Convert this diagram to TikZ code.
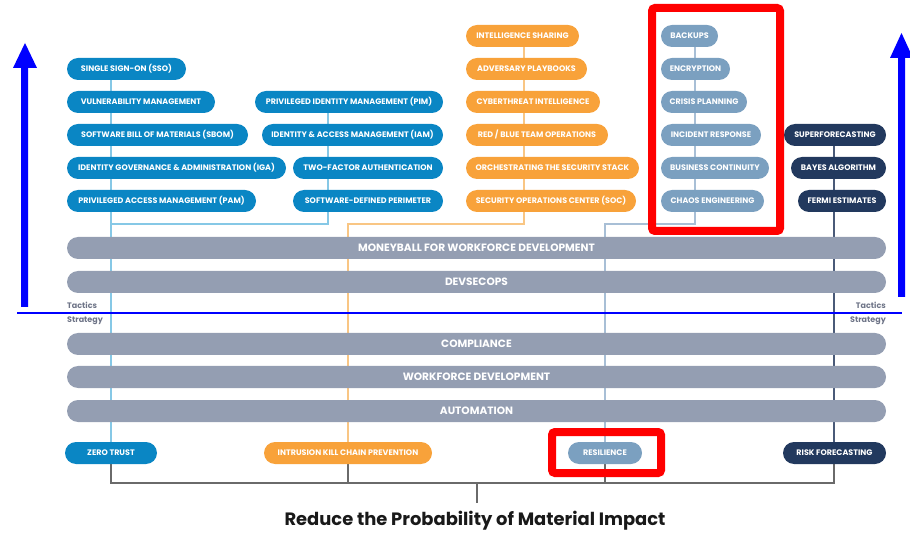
\documentclass[tikz,border=0pt]{standalone}
\usepackage{fontspec}
\setmainfont{Poppins}
\pgfdeclarelayer{bg}
\pgfsetlayers{bg,main}
\definecolor{cblue}{HTML}{0A86C4}
\definecolor{corange}{HTML}{F8A23A}
\definecolor{csteel}{HTML}{7BA0C0}
\definecolor{cnavy}{HTML}{22395E}
\definecolor{cbar}{HTML}{949EB2}
\definecolor{lblue}{HTML}{86C8E6}
\definecolor{lorange}{HTML}{F9C684}
\definecolor{lsteel}{HTML}{A8BFD6}
\definecolor{lnavy}{HTML}{4A5A78}
\definecolor{cgray}{HTML}{6A6A6A}
\definecolor{ctxt}{HTML}{6E7487}
\definecolor{pureblue}{RGB}{0,0,255}
\definecolor{purered}{RGB}{255,0,0}
\tikzset{
  pill/.style={rectangle, rounded corners=11pt, minimum height=22pt, inner sep=0pt, text=white, text height=5.6pt, text depth=0pt, font=\bfseries\fontsize{8}{9}\selectfont},
  bar/.style={pill, fill=cbar, minimum width=819pt, text height=7.4pt, font=\bfseries\fontsize{10.6}{12}\selectfont},
  spine/.style={line width=1.2pt},
  side/.style={text=ctxt, font=\bfseries\fontsize{8}{9}\selectfont, inner sep=0pt},
  hilite/.style={draw=purered, line width=8pt, rounded corners=3pt},
}
\newcommand\pl[6]{\node[pill,fill=#5,minimum width={#3pt-#2pt}] (#1) at ({(#2+#3)/2},#4) {#6};}
\begin{document}
\begin{tikzpicture}[x=1pt,y=-1pt]
\useasboundingbox (0,0) rectangle (910,534);
% column 1
\pl{sso}{67}{186}{69}{cblue}{SINGLE SIGN-ON (SSO)}
\pl{vm}{67}{215}{102}{cblue}{VULNERABILITY MANAGEMENT}
\pl{sbom}{67}{248}{135}{cblue}{SOFTWARE BILL OF MATERIALS (SBOM)}
\pl{iga}{67}{286}{168}{cblue}{IDENTITY GOVERNANCE \& ADMINISTRATION (IGA)}
\pl{pam}{67}{256}{201}{cblue}{PRIVILEGED ACCESS MANAGEMENT (PAM)}
% column 2
\pl{pim}{255}{443}{102}{cblue}{PRIVILEGED IDENTITY MANAGEMENT (PIM)}
\pl{iam}{262}{443}{135}{cblue}{IDENTITY \& ACCESS MANAGEMENT (IAM)}
\pl{tfa}{293}{443}{168}{cblue}{TWO-FACTOR AUTHENTICATION}
\pl{sdp}{293}{443}{201}{cblue}{SOFTWARE-DEFINED PERIMETER}
% column 3
\pl{is}{466}{579}{36}{corange}{INTELLIGENCE SHARING}
\pl{ap}{466}{587}{69}{corange}{ADVERSARY PLAYBOOKS}
\pl{cti}{466}{600}{102}{corange}{CYBERTHREAT INTELLIGENCE}
\pl{rb}{466}{608}{135}{corange}{RED / BLUE TEAM OPERATIONS}
\pl{orch}{466}{639}{168}{corange}{ORCHESTRATING THE SECURITY STACK}
\pl{soc}{466}{636}{201}{corange}{SECURITY OPERATIONS CENTER (SOC)}
% column 4
\pl{bk}{661}{718}{36}{csteel}{BACKUPS}
\pl{enc}{661}{730}{69}{csteel}{ENCRYPTION}
\pl{cp}{661}{747}{102}{csteel}{CRISIS PLANNING}
\pl{ir}{661}{761}{135}{csteel}{INCIDENT RESPONSE}
\pl{bc}{661}{769}{168}{csteel}{BUSINESS CONTINUITY}
\pl{ce}{661}{764}{201}{csteel}{CHAOS ENGINEERING}
% column 5
\pl{sf}{784}{886}{135}{cnavy}{SUPERFORECASTING}
\pl{bay}{791}{886}{168}{cnavy}{BAYES ALGORITHM}
\pl{fe}{798}{886}{201}{cnavy}{FERMI ESTIMATES}
% bars
\node[bar] (mb) at (476.5,248) {MONEYBALL FOR WORKFORCE DEVELOPMENT};
\node[bar] (dso) at (476.5,282) {DEVSECOPS};
\node[bar] (comp) at (476.5,344) {COMPLIANCE};
\node[bar] (wd) at (476.5,377) {WORKFORCE DEVELOPMENT};
\node[bar] (auto) at (476.5,411) {AUTOMATION};
% bottom pills
\pl{zt}{65}{157}{453}{cblue}{ZERO TRUST}
\pl{ikc}{264}{432}{453}{corange}{INTRUSION KILL CHAIN PREVENTION}
\pl{res}{568}{642}{453}{csteel}{RESILIENCE}
\pl{rf}{783}{886}{453}{cnavy}{RISK FORECASTING}
% side labels
\node[side, anchor=west] (tl) at (67,305) {Tactics};
\node[side, anchor=west] (sl) at (67,321) {Strategy};
\node[side, anchor=east] (tr) at (886,305) {Tactics};
\node[side, anchor=east] (sr) at (886,321) {Strategy};
% title
\node[anchor=base, inner sep=0pt, font=\bfseries\fontsize{17.9}{21}\selectfont, text=black!90] (title) at (475,525) {Reduce the Probability of Material Impact};
% junction coordinates
\coordinate (k1) at (111,224);
\coordinate (k2) at (328,224);
\coordinate (k3) at (524,224);
\coordinate (k3b) at (348,224);
\coordinate (k4) at (695,224);
\coordinate (k4b) at (605,224);
\coordinate (b1) at (111,483);
\coordinate (b2) at (348,483);
\coordinate (b3) at (605,483);
\coordinate (b4) at (834,483);
\coordinate (bm) at (477,483);
\coordinate (bt) at (477,503);
\begin{pgfonlayer}{bg}
\draw[spine, lblue] (sso.south -| k1) -- (zt.north -| k1);
\draw[spine, lblue] (pim.south -| k2) -- (k2) -- (k1);
\draw[spine, lorange] (is.south -| k3) -- (k3) -- (k3b) -- (ikc.north -| k3b);
\draw[spine, lsteel] (bk.south -| k4) -- (k4) -- (k4b) -- (res.north -| k4b);
\draw[spine, lnavy] (sf.south -| b4) -- (rf.north -| b4);
\draw[spine, cgray] (zt.south -| b1) -- (b1) -- (b4) -- (rf.south -| b4);
\draw[spine, cgray] (ikc.south -| b2) -- (b2);
\draw[spine, cgray] (res.south -| b3) -- (b3);
\draw[spine, cgray] (bm) -- (bt);
\end{pgfonlayer}
% blue arrows and divider
\fill[pureblue] (21,307) -- (21,68) -- (13,68) -- (25,43) -- (37,68) -- (28,68) -- (28,307) -- cycle;
\fill[pureblue] (898,297) -- (898,58) -- (890,58) -- (901.5,33) -- (913,58) -- (905,58) -- (905,297) -- cycle;
\draw[pureblue, line width=1.5pt] (17,313) -- (902,313);
% highlight boxes
\draw[hilite] (652,8) rectangle (780,231);
\draw[hilite] (552,432) rectangle (661,473);
\end{tikzpicture}
\end{document}
